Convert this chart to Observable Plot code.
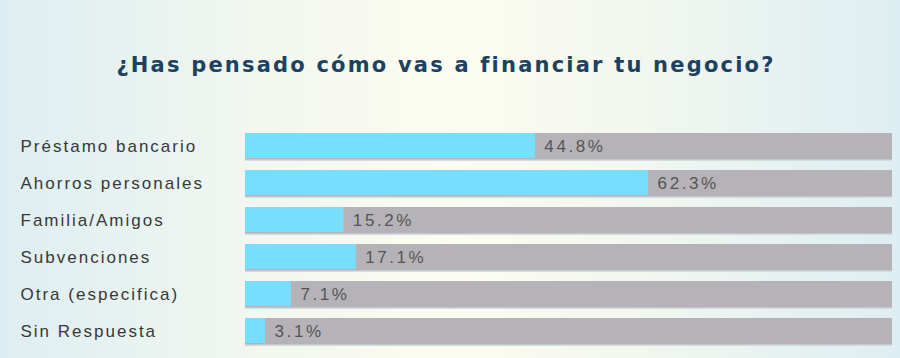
<!DOCTYPE html>
<html>
<head>
<meta charset="utf-8">
<script src="https://cdn.jsdelivr.net/npm/d3@7"></script>
<script src="https://cdn.jsdelivr.net/npm/@observablehq/plot@0.6"></script>
<style>
  html, body { margin: 0; padding: 0; }
  body {
    width: 900px; height: 358px; overflow: hidden; position: relative;
    background: linear-gradient(to right, #ddeef2 0%, #f3f7ef 30%, #fcfcf1 50%, #f3f7ef 70%, #ddeef2 100%);
    font-family: "Liberation Sans", Arial, sans-serif;
  }
  #title {
    position: absolute; left: 0; top: 53px; width: 900px; text-align: center;
    font-family: "DejaVu Sans", sans-serif;
    font-size: 21px; line-height: 24px; font-weight: bold; color: #1d4261;
    letter-spacing: 2.2px; padding-right: 8px; box-sizing: border-box;
  }
  #chart { position: absolute; left: 0; top: 100px; }
  #chart svg { background: transparent; }
  .lbl text { letter-spacing: 2.0px; }
  .val text { letter-spacing: 2.6px; }
</style>
</head>
<body>
<div id="title">¿Has pensado cómo vas a financiar tu negocio?</div>
<div id="chart"></div>
<script>
const categories = ["Préstamo bancario", "Ahorros personales", "Familia/Amigos", "Subvenciones", "Otra (especifica)", "Sin Respuesta"];
const values = [44.8, 62.3, 15.2, 17.1, 7.1, 3.1];
const maxValue = 100;

const rows = categories.map((c, i) => ({category: c, value: values[i], label: values[i].toFixed(1) + "%"}));

const chart = Plot.plot({
  width: 900,
  height: 258,
  marginLeft: 245,
  marginRight: 8,
  marginTop: 22.5,
  marginBottom: 3,
  style: {background: "transparent", fontFamily: "'Liberation Sans', Arial, sans-serif", overflow: "visible"},
  x: {domain: [0, maxValue], axis: null},
  y: {domain: categories, padding: 0.284, round: false, axis: null},
  marks: [
    Plot.barX(rows, {y: "category", x1: 0, x2: maxValue, fill: "#d3dcdf", dy: 1.5}),
    Plot.barX(rows, {y: "category", x1: 0, x2: maxValue, fill: "#b5b3b8"}),
    Plot.barX(rows, {y: "category", x1: 0, x2: "value", fill: "#77dffd", insetBottom: 1.5}),
    Plot.text(rows, {y: "category", text: "category", frameAnchor: "left", textAnchor: "start", dx: -225,
      fontSize: 17, fill: "#383838", className: "lbl"}),
    Plot.text(rows, {y: "category", x: "value", text: "label", textAnchor: "start", dx: 9,
      fontSize: 17, fill: "#555555", className: "val"})
  ]
});
document.getElementById("chart").appendChild(chart);
</script>
</body>
</html>
